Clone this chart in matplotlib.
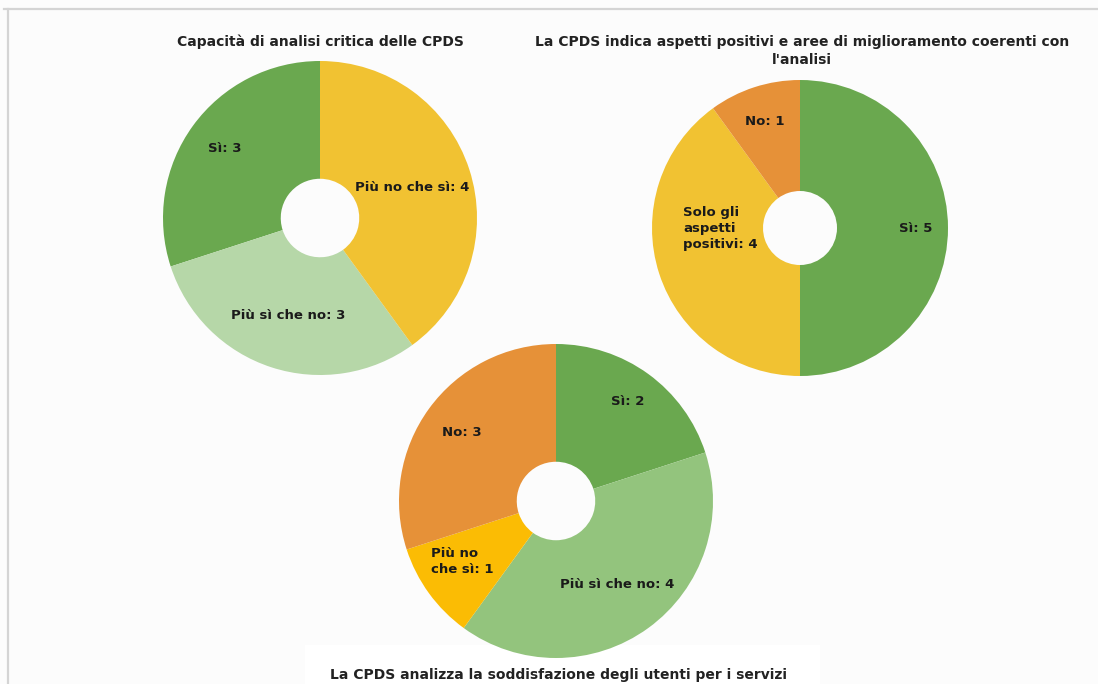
import numpy as np
import matplotlib
matplotlib.use("Agg")
import matplotlib.pyplot as plt
from matplotlib.lines import Line2D

# valori dei tre grafici
etichette_analisi = ["Sì", "Più sì che no", "Più no che sì"]
valori_analisi = [3, 3, 4]

etichette_aspetti = ["Sì", "Solo gli\naspetti\npositivi", "No"]
valori_aspetti = [5, 4, 1]

etichette_utenti = ["Sì", "Più sì che no", "Più no\nche sì", "No"]
valori_utenti = [2, 4, 1, 3]

titolo_analisi = "Capacità di analisi critica delle CPDS"
titolo_aspetti = "La CPDS indica aspetti positivi e aree di miglioramento coerenti con\nl'analisi"
titolo_utenti = "La CPDS analizza la soddisfazione degli utenti per i servizi"

VERDE = "#6aa84f"
GIALLO = "#f1c232"
VERDE_CHIARO = "#b6d7a8"
ARANCIO = "#e69138"
VERDE_MEDIO = "#93c47d"
ORO = "#fbbc04"

W, H = 1098, 684
fig = plt.figure(figsize=(W / 100, H / 100), dpi=100)
fig.patch.set_facecolor("#fcfcfc")

# bordo grigio in alto e a sinistra
fig.add_artist(Line2D([4 / W, 1], [1 - 9 / H, 1 - 9 / H], color="#d4d4d4", lw=1.6))
fig.add_artist(Line2D([8 / W, 8 / W], [0, 1 - 9 / H], color="#d4d4d4", lw=1.6))

# riquadro bianco dietro il titolo in basso
fig.add_artist(plt.Rectangle((305 / W, 0), 515 / W, 39 / H, transform=fig.transFigure,
                             facecolor="white", edgecolor="none", zorder=-5))


def ciambella(cx, cy, r, valori, etichette, colori, dist, spost=None, antiorario=False):
    ax = fig.add_axes([(cx - r) / W, 1 - (cy + r) / H, 2 * r / W, 2 * r / H])
    ax.patch.set_alpha(0)
    wedges, _ = ax.pie(valori, colors=colori, startangle=90, counterclock=antiorario,
                       wedgeprops=dict(width=0.75, linewidth=0))
    for i, (w, lab, v) in enumerate(zip(wedges, etichette, valori)):
        ang = np.deg2rad((w.theta1 + w.theta2) / 2)
        d = dist[i]
        dx, dy = (0, 0) if spost is None else spost[i]
        multi = "\n" in lab
        ax.text(d * np.cos(ang) + dx, d * np.sin(ang) + dy, f"{lab}: {v}",
                ha="left" if multi else "center", va="center",
                fontsize=9.5, fontweight="bold", color="#1a1a1a",
                linespacing=1.3)
    ax.set_xlim(-1, 1)
    ax.set_ylim(-1, 1)
    ax.axis("off")
    return ax


ciambella(320, 218, 157, valori_analisi, etichette_analisi,
          [VERDE, VERDE_CHIARO, GIALLO], [0.75, 0.65, 0.62], antiorario=True)
ciambella(800, 228, 148, valori_aspetti, etichette_aspetti,
          [VERDE, GIALLO, ARANCIO], [0.78, 0.6, 0.76],
          spost=[(0, 0), (-0.22, 0.185), (0, 0)])
ciambella(556, 501, 157, valori_utenti, etichette_utenti,
          [VERDE, VERDE_MEDIO, ORO, ARANCIO], [0.78, 0.66, 0.66, 0.74],
          spost=[(0, 0), (0, 0), (-0.26, 0), (0, 0)])

fig.text(320 / W, 1 - 42 / H, titolo_analisi, ha="center", va="center",
         fontsize=10, fontweight="bold", color="#222222")
fig.text(802 / W, 1 - 51 / H, titolo_aspetti, ha="center", va="center",
         fontsize=10, fontweight="bold", color="#222222", linespacing=1.45)
fig.text(558 / W, 1 - 675 / H, titolo_utenti, ha="center", va="center",
         fontsize=10, fontweight="bold", color="#222222")

fig.savefig("out.png", dpi=100, facecolor=fig.get_facecolor())
